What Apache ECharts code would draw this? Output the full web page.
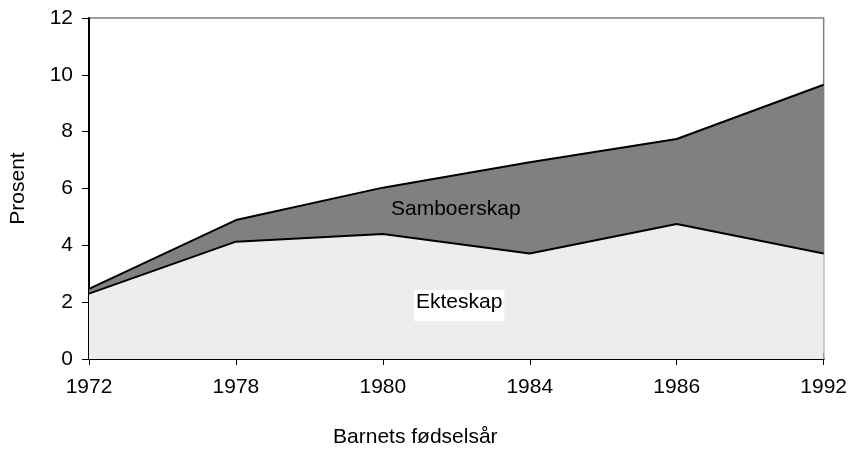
<!DOCTYPE html>
<html>
<head>
<meta charset="utf-8">
<script src="https://cdn.jsdelivr.net/npm/echarts@6/dist/echarts.min.js"></script>
<style>html,body{margin:0;padding:0;background:#fff}#c{width:850px;height:453px}</style>
</head>
<body>
<div id="c"></div>
<script>
const categories = ['1972', '1978', '1980', '1984', '1986', '1992'];
const ekteskap = [2.3, 4.13, 4.4, 3.71, 4.75, 3.71];
const samboerskap = [0.17, 0.76, 1.63, 3.21, 2.99, 5.94];
const yTicks = [0, 2, 4, 6, 8, 10, 12];

const pc = document.createElement('canvas');
pc.width = 2; pc.height = 2;
const pctx = pc.getContext('2d');
pctx.fillStyle = '#f6f6f6'; pctx.fillRect(0, 0, 2, 2);
pctx.fillStyle = '#e4e4e4'; pctx.fillRect(0, 0, 1, 1); pctx.fillRect(1, 1, 1, 1);

const font = '"Liberation Sans", Arial, sans-serif';
const chart = echarts.init(document.getElementById('c'));
chart.setOption({
  animation: false,
  grid: { left: 89, right: 26, top: 18, bottom: 91, show: true, borderColor: '#808080', borderWidth: 1.5, backgroundColor: 'transparent' },
  xAxis: [{
    type: 'category', data: categories, boundaryGap: false,
    name: 'Barnets fødselsår', nameLocation: 'middle', nameGap: 68,
    nameTextStyle: { fontFamily: font, fontSize: 21, color: '#000', padding: [0, 82, 0, 0] },
    axisLine: { lineStyle: { color: '#000', width: 2 } },
    axisTick: { show: true, length: 6, lineStyle: { color: '#000', width: 1 } },
    axisLabel: { fontFamily: font, fontSize: 21, color: '#000', margin: 18 },
    splitLine: { show: false }
  }, {
    type: 'category', data: categories, boundaryGap: false, position: 'bottom',
    axisLine: { show: false },
    axisTick: { show: true, inside: true, length: 6, lineStyle: { color: '#000', width: 1 } },
    axisLabel: { show: false }, splitLine: { show: false }
  }],
  yAxis: {
    type: 'value', min: yTicks[0], max: yTicks[yTicks.length - 1], interval: 2,
    name: 'Prosent', nameLocation: 'middle', nameGap: 60, nameRotate: 90,
    nameTextStyle: { fontFamily: font, fontSize: 21, color: '#000' },
    axisLine: { show: true, lineStyle: { color: '#000', width: 2 } },
    axisTick: { show: true, length: 7, lineStyle: { color: '#000', width: 1 } },
    axisLabel: { fontFamily: font, fontSize: 21, color: '#000', margin: 16 },
    splitLine: { show: false }
  },
  series: [{
    name: 'Ekteskap', type: 'line', stack: 'total', data: ekteskap,
    symbol: 'none', lineStyle: { color: '#000', width: 2 },
    areaStyle: { color: { image: pc, repeat: 'repeat' }, opacity: 1 }
  }, {
    name: 'Samboerskap', type: 'line', stack: 'total', data: samboerskap,
    symbol: 'none', lineStyle: { color: '#000', width: 2 },
    areaStyle: { color: '#808080', opacity: 1 }
  }],
  graphic: [{
    type: 'text', left: 391, top: 199, z: 100,
    style: { text: 'Samboerskap', fontFamily: font, fontSize: 21, fill: '#000' }
  }, {
    type: 'text', left: 414, top: 290, z: 100,
    style: { text: 'Ekteskap', fontFamily: font, fontSize: 21, fill: '#000', backgroundColor: '#fff', padding: [2, 2, 8, 2] }
  }]
});
</script>
</body>
</html>
